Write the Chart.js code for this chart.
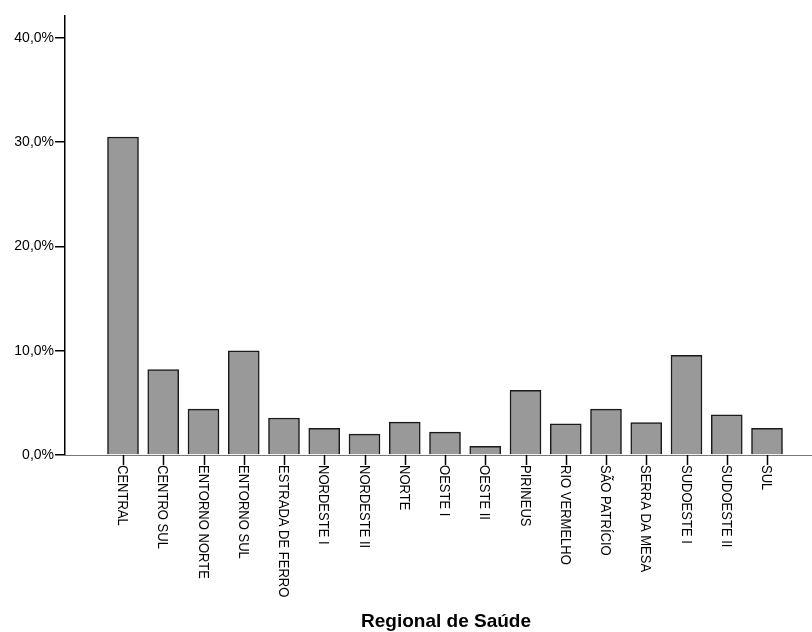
<!DOCTYPE html>
<html>
<head>
<meta charset="utf-8">
<script src="https://cdn.jsdelivr.net/npm/chart.js@4.4.0/dist/chart.umd.min.js"></script>
<style>
  body { margin: 0; background: #fff; }
  #wrap { width: 812px; height: 632px; position: relative; }
</style>
</head>
<body>
<div id="wrap"><canvas id="grafico"></canvas></div>
<script>
// --- Dados ---
const regionais = [
  'CENTRAL', 'CENTRO SUL', 'ENTORNO NORTE', 'ENTORNO SUL', 'ESTRADA DE FERRO',
  'NORDESTE I', 'NORDESTE II', 'NORTE', 'OESTE I', 'OESTE II', 'PIRINEUS',
  'RIO VERMELHO', 'SÃO PATRÍCIO', 'SERRA DA MESA', 'SUDOESTE I', 'SUDOESTE II', 'SUL'
];
const percentuais = [30.5, 8.2, 4.4, 10.0, 3.55, 2.56, 2.0, 3.16, 2.2, 0.83, 6.2, 3.0, 4.4, 3.1, 9.56, 3.86, 2.56];
const ticksY = [0, 10, 20, 30, 40];
const tituloX = 'Regional de Saúde';

const fonte = '"Liberation Sans", Arial, sans-serif';

// --- Plugin: marcas e rótulos do eixo X (girados no sentido horário) ---
const rotulosX = {
  id: 'rotulosX',
  afterDraw(chart) {
    const { ctx, scales: { x }, chartArea } = chart;
    const base = chartArea.bottom;
    ctx.save();
    ctx.strokeStyle = '#000';
    ctx.lineWidth = 1.5;
    ctx.fillStyle = '#000';
    ctx.font = '14px ' + fonte;
    regionais.forEach((nome, i) => {
      const px = Math.round(x.getPixelForValue(i)) + 0.5;
      ctx.beginPath();
      ctx.moveTo(px, base);
      ctx.lineTo(px, base + 10);
      ctx.stroke();

      ctx.save();
      ctx.translate(px - 2, base + 10);
      ctx.rotate(Math.PI / 2);
      ctx.scale(0.93, 1);
      ctx.textAlign = 'left';
      ctx.textBaseline = 'middle';
      ctx.fillText(nome, 0, 0);
      ctx.restore();
    });

    ctx.font = 'bold 19px ' + fonte;
    ctx.textAlign = 'center';
    ctx.textBaseline = 'middle';
    ctx.fillText(tituloX, 446, 622);
    ctx.restore();
  }
};

const ctx = document.getElementById('grafico');
new Chart(ctx, {
  type: 'bar',
  data: {
    datasets: [{
      data: percentuais.map((v, i) => ({ x: i, y: v })),
      backgroundColor: '#999999',
      borderColor: '#1a1a1a',
      borderWidth: 1.5,
      barThickness: 31
    }]
  },
  options: {
    responsive: true,
    maintainAspectRatio: false,
    animation: false,
    layout: { padding: { top: 16, left: 0, right: 0, bottom: 0 } },
    plugins: {
      legend: { display: false },
      tooltip: { enabled: false }
    },
    scales: {
      x: {
        type: 'linear',
        min: -1.441,
        max: 17.118,
        offset: false,
        ticks: { display: false },
        grid: { display: false, offset: false },
        border: { color: '#777', width: 1 },
        afterFit: (scale) => { scale.height = 177; }
      },
      y: {
        min: 0,
        max: 42.1,
        afterBuildTicks: (scale) => {
          scale.ticks = ticksY.map(v => ({ value: v }));
        },
        ticks: {
          color: '#000',
          padding: 1,
          font: { family: fonte, size: 14 },
          callback: (v) => v.toFixed(1).replace('.', ',') + '%'
        },
        grid: {
          drawOnChartArea: false,
          drawTicks: true,
          tickLength: 10,
          color: '#000',
          lineWidth: 1.5
        },
        border: { color: '#000', width: 1.5 },
        afterFit: (scale) => { scale.width = 65; }
      }
    }
  },
  plugins: [rotulosX]
});
</script>
</body>
</html>
